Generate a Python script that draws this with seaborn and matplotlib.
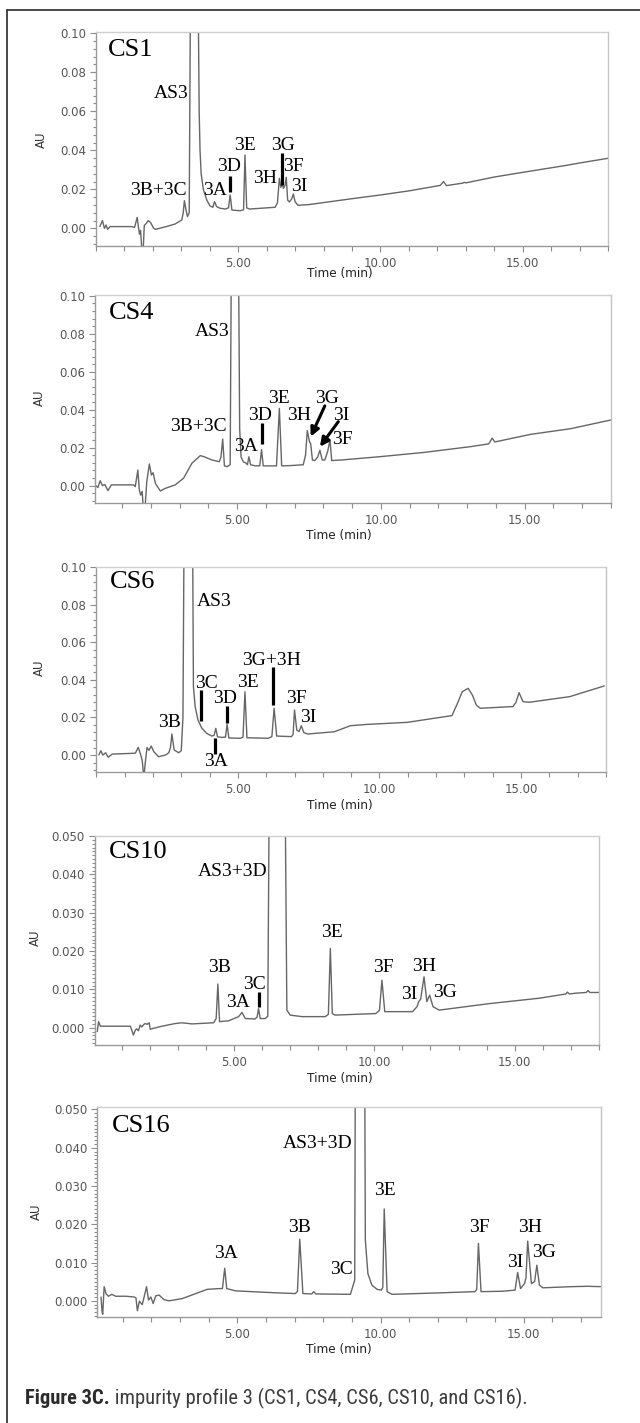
import matplotlib
matplotlib.use("Agg")
import matplotlib.pyplot as plt
from matplotlib.ticker import MultipleLocator, FixedLocator, FuncFormatter
from matplotlib.lines import Line2D
from matplotlib import font_manager
import seaborn as sns

sns.set_theme(style="ticks")
plt.rcParams["font.family"] = ["DejaVu Sans"]

# ---------------------------------------------------------------- data
# CS1 chromatogram (time in min, absorbance in AU)
cs1_time = [0.14, 0.23, 0.30, 0.36, 0.41, 0.50, 1.26, 1.36, 1.45, 1.53, 1.57, 1.62, 1.66,
            1.70, 1.77, 1.84, 1.92, 2.03, 2.10, 2.50, 2.78, 3.02, 3.07, 3.11, 3.16, 3.22,
            3.28, 3.32, 3.45, 3.60, 3.63, 3.66, 3.70, 3.78, 3.90, 4.01, 4.11, 4.17, 4.24,
            4.36, 4.55, 4.66, 4.72, 4.78, 5.07, 5.19, 5.24, 5.30, 5.40, 6.30, 6.38, 6.45,
            6.50, 6.55, 6.59, 6.65, 6.69, 6.74, 6.80, 6.88, 6.94, 7.00, 7.10, 7.50, 8.40,
            9.00, 10.0, 11.0, 12.10, 12.22, 12.32, 12.90, 12.95, 13.0, 14.0, 15.0, 16.5,
            17.0, 18.0]
cs1_au = [0.0009, 0.0040, 0.0000, 0.0017, -0.0005, 0.0009, 0.0009, 0.0005, 0.0056, -0.0030,
          -0.0010, -0.0120, -0.0120, 0.0015, 0.0025, 0.0040, 0.0030, 0.0000, -0.0005, 0.0010,
          0.0022, 0.0043, 0.0080, 0.0142, 0.0100, 0.0060, 0.0080, 0.1100, 0.2000, 0.1100,
          0.0600, 0.0400, 0.0280, 0.0197, 0.0145, 0.0115, 0.0108, 0.0137, 0.0112, 0.0103,
          0.0099, 0.0105, 0.0171, 0.0094, 0.0090, 0.0095, 0.0376, 0.0105, 0.0099, 0.0108,
          0.0130, 0.0256, 0.0210, 0.0230, 0.0205, 0.0220, 0.0262, 0.0145, 0.0135, 0.0150,
          0.0176, 0.0137, 0.0118, 0.0122, 0.0140, 0.0152, 0.0171, 0.0192, 0.0220, 0.0240,
          0.0219, 0.0232, 0.0236, 0.0233, 0.0263, 0.0287, 0.0322, 0.0335, 0.0359]

# CS4 chromatogram
cs4_time = [0.09, 0.16, 0.24, 0.32, 0.40, 0.51, 0.63, 1.40, 1.46, 1.55, 1.60, 1.65, 1.70,
            1.74, 1.80, 1.86, 1.95, 2.02, 2.08, 2.16, 2.33, 2.51, 2.85, 3.14, 3.43, 3.72,
            3.84, 4.13, 4.38, 4.44, 4.50, 4.56, 4.65, 4.76, 4.80, 4.93, 5.05, 5.09, 5.14,
            5.22, 5.30, 5.36, 5.41, 5.47, 5.64, 5.79, 5.85, 5.91, 6.37, 6.47, 6.55, 6.90,
            7.30, 7.38, 7.44, 7.52, 7.56, 7.62, 7.70, 7.80, 7.88, 7.96, 8.05, 8.15, 8.23,
            8.29, 8.62, 10.0, 11.5, 13.1, 13.75, 13.87, 13.96, 15.2, 16.6, 18.0]
cs4_au = [0.0000, -0.0010, 0.0026, 0.0000, 0.0006, -0.0026, 0.0004, 0.0004, -0.0005, 0.0082,
          -0.0023, -0.0050, -0.0030, -0.0120, -0.0120, 0.0020, 0.0114, 0.0056, 0.0068, 0.0012,
          -0.0028, -0.0014, 0.0004, 0.0039, 0.0118, 0.0158, 0.0153, 0.0135, 0.0126, 0.0150,
          0.0245, 0.0104, 0.0100, 0.0110, 0.1200, 0.2500, 0.1200, 0.0300, 0.0150, 0.0125,
          0.0120, 0.0110, 0.0152, 0.0110, 0.0104, 0.0105, 0.0190, 0.0104, 0.0104, 0.0407,
          0.0104, 0.0106, 0.0110, 0.0160, 0.0290, 0.0230, 0.0220, 0.0135, 0.0132, 0.0150,
          0.0186, 0.0135, 0.0135, 0.0180, 0.0240, 0.0132, 0.0135, 0.0153, 0.0175, 0.0205,
          0.0220, 0.0250, 0.0230, 0.0270, 0.0300, 0.0346]

# CS6 chromatogram
cs6_time = [0.09, 0.16, 0.23, 0.33, 0.42, 0.56, 1.27, 1.38, 1.48, 1.56, 1.62, 1.68, 1.73,
            1.79, 1.86, 1.94, 2.03, 2.20, 2.44, 2.56, 2.62, 2.67, 2.75, 2.91, 3.00, 3.06,
            3.10, 3.25, 3.40, 3.43, 3.49, 3.59, 3.73, 3.90, 4.08, 4.16, 4.22, 4.28, 4.43,
            4.56, 4.62, 4.68, 5.07, 5.18, 5.25, 5.32, 6.07, 6.20, 6.28, 6.37, 6.89, 6.95,
            7.00, 7.08, 7.16, 7.24, 7.33, 7.47, 8.41, 8.97, 9.55, 10.98, 12.56, 12.78,
            12.92, 13.13, 13.28, 13.42, 13.56, 14.71, 14.82, 14.93, 15.07, 15.29, 16.72,
            17.94]
cs6_au = [0.0000, 0.0023, 0.0000, 0.0012, -0.0012, 0.0005, 0.0009, 0.0010, 0.0041, 0.0005,
          -0.0027, -0.0120, -0.0040, 0.0040, 0.0025, 0.0048, 0.0018, -0.0009, 0.0000, 0.0012,
          0.0040, 0.0112, 0.0027, 0.0012, 0.0023, 0.0200, 0.1200, 0.2500, 0.1200, 0.0364,
          0.0258, 0.0187, 0.0142, 0.0115, 0.0101, 0.0105, 0.0142, 0.0097, 0.0094, 0.0095,
          0.0163, 0.0091, 0.0089, 0.0095, 0.0337, 0.0092, 0.0089, 0.0098, 0.0249, 0.0101,
          0.0098, 0.0110, 0.0240, 0.0133, 0.0125, 0.0156, 0.0119, 0.0112, 0.0124, 0.0156,
          0.0163, 0.0174, 0.0210, 0.0284, 0.0337, 0.0355, 0.0320, 0.0266, 0.0249, 0.0258,
          0.0280, 0.0332, 0.0284, 0.0281, 0.0311, 0.0368]

# CS10 chromatogram
cs10_time = [0.12, 0.17, 0.23, 1.30, 1.36, 1.41, 1.48, 1.53, 1.59, 1.65, 1.71, 1.77, 1.83,
             1.90, 1.97, 2.01, 2.10, 2.43, 2.90, 3.14, 3.50, 4.27, 4.36, 4.42, 4.48, 4.80,
             5.16, 5.28, 5.40, 5.75, 5.82, 5.87, 5.93, 6.11, 6.20, 6.25, 6.55, 6.82, 6.88,
             7.00, 7.42, 8.25, 8.36, 8.43, 8.50, 8.60, 10.05, 10.18, 10.27, 10.37, 11.36,
             11.52, 11.58, 11.65, 11.77, 11.87, 11.97, 12.09, 12.31, 14.10, 15.87, 16.82,
             16.88, 16.95, 17.15, 17.55, 17.62, 17.68, 18.0]
cs10_au = [-0.0010, 0.0016, 0.0004, 0.0004, -0.0008, -0.0019, -0.0006, -0.0003, -0.0008,
           0.0007, 0.0002, 0.0008, 0.0011, 0.0009, 0.0013, -0.0004, -0.0002, 0.0004, 0.0011,
           0.0013, 0.0010, 0.0013, 0.0024, 0.0114, 0.0016, 0.0018, 0.0029, 0.0040, 0.0024,
           0.0023, 0.0028, 0.0050, 0.0024, 0.0024, 0.0030, 0.0600, 0.1500, 0.0600, 0.0046,
           0.0033, 0.0029, 0.0029, 0.0035, 0.0207, 0.0037, 0.0033, 0.0037, 0.0045, 0.0124,
           0.0042, 0.0042, 0.0055, 0.0068, 0.0075, 0.0133, 0.0068, 0.0085, 0.0055, 0.0046,
           0.0063, 0.0077, 0.0088, 0.0093, 0.0088, 0.0090, 0.0092, 0.0097, 0.0092, 0.0092]

# CS16 chromatogram
cs16_time = [0.24, 0.28, 0.30, 0.35, 0.42, 0.50, 0.62, 0.75, 1.11, 1.40, 1.46, 1.51, 1.58,
             1.68, 1.78, 1.83, 1.90, 1.98, 2.06, 2.15, 2.27, 2.44, 2.62, 3.08, 3.55, 3.95,
             4.36, 4.48, 4.56, 4.63, 4.94, 6.33, 7.03, 7.10, 7.18, 7.29, 7.60, 7.67, 7.74,
             8.95, 9.03, 9.10, 9.12, 9.30, 9.45, 9.47, 9.56, 9.70, 9.88, 10.03, 10.08, 10.13,
             10.23, 10.40, 12.14, 13.30, 13.36, 13.42, 13.51, 14.25, 14.70, 14.79, 14.89,
             15.03, 15.08, 15.14, 15.27, 15.38, 15.46, 15.55, 15.67, 16.66, 17.23, 17.69]
cs16_au = [0.0010, -0.0030, -0.0035, 0.0037, 0.0018, 0.0012, 0.0017, 0.0012, 0.0012, 0.0010,
           0.0008, -0.0026, -0.0001, -0.0010, 0.0021, 0.0037, 0.0002, 0.0010, -0.0007, 0.0013,
           0.0015, 0.0003, 0.0000, 0.0006, 0.0019, 0.0030, 0.0032, 0.0032, 0.0085, 0.0032,
           0.0026, 0.0021, 0.0019, 0.0025, 0.0161, 0.0019, 0.0018, 0.0024, 0.0018, 0.0017,
           0.0037, 0.0054, 0.0600, 0.1500, 0.0600, 0.0159, 0.0071, 0.0041, 0.0030, 0.0028,
           0.0035, 0.0240, 0.0024, 0.0017, 0.0021, 0.0024, 0.0030, 0.0150, 0.0024, 0.0025,
           0.0028, 0.0074, 0.0032, 0.0045, 0.0060, 0.0156, 0.0045, 0.0050, 0.0093, 0.0041,
           0.0034, 0.0037, 0.0038, 0.0037]

# peak annotations: name, time, AU of the label centre
cs1_peaks = ["AS3", "3B+3C", "3A", "3D", "3E", "3H", "3G", "3F", "3I"]
cs1_peak_t = [2.64, 2.21, 4.19, 4.67, 5.24, 5.96, 6.56, 6.93, 7.15]
cs1_peak_au = [0.0689, 0.0193, 0.0193, 0.0316, 0.0424, 0.0256, 0.0424, 0.0316, 0.0217]
cs1_bar_t = [4.72, 6.53]
cs1_bar_lo = [0.0185, 0.0222]
cs1_bar_hi = [0.0270, 0.0385]

cs4_peaks = ["AS3", "3B+3C", "3A", "3D", "3E", "3H", "3G", "3I", "3F"]
cs4_peak_t = [4.12, 3.65, 5.31, 5.78, 6.45, 7.17, 8.12, 8.62, 8.66]
cs4_peak_au = [0.0810, 0.0310, 0.0205, 0.0372, 0.0460, 0.0372, 0.0460, 0.0372, 0.0244]
cs4_bar_t = [5.85]
cs4_bar_lo = [0.0220]
cs4_bar_hi = [0.0328]
cs4_arrow_from = [(8.05, 0.0420), (8.52, 0.0337)]
cs4_arrow_to = [(7.56, 0.0258), (7.88, 0.0205)]

cs6_peaks = ["AS3", "3B", "3C", "3D", "3E", "3G+3H", "3F", "3I", "3A"]
cs6_peak_t = [4.17, 2.59, 3.88, 4.53, 5.35, 6.18, 7.07, 7.47, 4.21]
cs6_peak_au = [0.0817, 0.0172, 0.0382, 0.0302, 0.0387, 0.0502, 0.0302, 0.0199, -0.0036]
cs6_bar_t = [3.71, 4.61, 6.25, 4.20]
cs6_bar_lo = [0.0180, 0.0169, 0.0266, 0.0004]
cs6_bar_hi = [0.0346, 0.0261, 0.0470, 0.0092]

cs10_peaks = ["AS3+3D", "3B", "3A", "3C", "3E", "3F", "3H", "3I", "3G"]
cs10_peak_t = [4.93, 4.48, 5.13, 5.71, 8.48, 10.31, 11.77, 11.24, 12.52]
cs10_peak_au = [0.0407, 0.0157, 0.0066, 0.0114, 0.0249, 0.0157, 0.0159, 0.0088, 0.0091]
cs10_bar_t = [5.90]
cs10_bar_lo = [0.0055]
cs10_bar_hi = [0.0092]

cs16_peaks = ["AS3+3D", "3A", "3B", "3C", "3E", "3F", "3H", "3I", "3G"]
cs16_peak_t = [7.80, 4.62, 7.16, 8.63, 10.14, 13.46, 15.24, 14.70, 15.71]
cs16_peak_au = [0.0411, 0.0124, 0.0192, 0.0082, 0.0287, 0.0192, 0.0192, 0.0099, 0.0126]

sample_names = ["CS1", "CS4", "CS6", "CS10", "CS16"]
caption_bold = "Figure 3C."
caption_rest = " impurity profile 3 (CS1, CS4, CS6, CS10, and CS16)."

# ---------------------------------------------------------------- layout
W, H = 640, 1423
fig = plt.figure(figsize=(W / 100, H / 100), dpi=100)
fig.patch.set_facecolor("white")

SERIF = ["Liberation Serif", "DejaVu Serif"]
TRACE = "#666666"

installed = {f.name for f in font_manager.fontManager.ttflist}
CAPTION_FONT = ["DejaVu Sans"]
for cand in ("Roboto Condensed", "Liberation Sans Narrow", "Open Sans Condensed", "Roboto", "Lato"):
    if cand in installed:
        CAPTION_FONT = [cand]
        break

panels = [
    dict(name=sample_names[0], t=cs1_time, au=cs1_au, box=(95.9, 608, 32.3, 245.7),
         xlim=(0, 18), ylim=(-0.0089, 0.1005), major=0.02, minor=0.004, fmt="{:.2f}",
         peaks=(cs1_peaks, cs1_peak_t, cs1_peak_au), bars=(cs1_bar_t, cs1_bar_lo, cs1_bar_hi),
         tag=(0.42, 0.0914), au_lab=(41, 140), t_lab=(339.6, 273.3)),
    dict(name=sample_names[1], t=cs4_time, au=cs4_au, box=(94.7, 611, 295, 503.3),
         xlim=(0.05, 18), ylim=(-0.0093, 0.1004), major=0.02, minor=0.004, fmt="{:.2f}",
         peaks=(cs4_peaks, cs4_peak_t, cs4_peak_au), bars=(cs4_bar_t, cs4_bar_lo, cs4_bar_hi),
         arrows=(cs4_arrow_from, cs4_arrow_to),
         tag=(0.53, 0.0907), au_lab=(39, 398), t_lab=(338.8, 535)),
    dict(name=sample_names[2], t=cs6_time, au=cs6_au, box=(96.3, 606, 566.7, 772.3),
         xlim=(0, 18), ylim=(-0.0092, 0.1003), major=0.02, minor=0.004, fmt="{:.2f}",
         peaks=(cs6_peaks, cs6_peak_t, cs6_peak_au), bars=(cs6_bar_t, cs6_bar_lo, cs6_bar_hi),
         tag=(0.48, 0.0923), au_lab=(39, 668), t_lab=(340, 805)),
    dict(name=sample_names[3], t=cs10_time, au=cs10_au, box=(94.7, 598.8, 835.7, 1045),
         xlim=(0.03, 18), ylim=(-0.0045, 0.0501), major=0.01, minor=0.001, fmt="{:.3f}",
         peaks=(cs10_peaks, cs10_peak_t, cs10_peak_au), bars=(cs10_bar_t, cs10_bar_lo, cs10_bar_hi),
         tag=(0.52, 0.0459), au_lab=(35, 938), t_lab=(339.6, 1078.3)),
    dict(name=sample_names[4], t=cs16_time, au=cs16_au, box=(97, 601, 1106.7, 1317.3),
         xlim=(0.1, 17.7), ylim=(-0.0043, 0.0507), major=0.01, minor=0.001, fmt="{:.3f}",
         peaks=(cs16_peaks, cs16_peak_t, cs16_peak_au), bars=None,
         tag=(0.63, 0.0457), au_lab=(36, 1212), t_lab=(338.8, 1350)),
]


def fig_xy(x, y):
    return x / W, 1 - y / H


for p in panels:
    x0, x1, y0, y1 = p["box"]
    ax = fig.add_axes([x0 / W, 1 - y1 / H, (x1 - x0) / W, (y1 - y0) / H])
    ax.set_facecolor("white")

    sns.lineplot(x=p["t"], y=p["au"], ax=ax, color=TRACE, linewidth=1.0,
                 sort=False, estimator=None, legend=False)

    ax.set_xlim(*p["xlim"])
    ax.set_ylim(*p["ylim"])
    ax.set_xlabel("")
    ax.set_ylabel("")

    ax.xaxis.set_major_locator(FixedLocator([5, 10, 15]))
    ax.xaxis.set_major_formatter(FuncFormatter(lambda v, _: f"{v:.2f}"))
    ax.xaxis.set_minor_locator(MultipleLocator(1))
    ax.yaxis.set_major_locator(MultipleLocator(p["major"]))
    fmt = p["fmt"]
    ax.yaxis.set_major_formatter(FuncFormatter(lambda v, _, f=fmt: f.format(abs(v) if abs(v) < 1e-9 else v)))
    ax.yaxis.set_minor_locator(MultipleLocator(p["minor"]))

    ax.tick_params(axis="both", which="both", direction="out", color="#8c8c8c",
                   labelcolor="#555555", labelsize=8.5, width=0.8)
    ax.tick_params(axis="x", which="major", length=4, pad=4)
    ax.tick_params(axis="x", which="minor", length=3.5)
    ax.tick_params(axis="y", which="major", length=4, pad=3)
    ax.tick_params(axis="y", which="minor", length=2.5)

    for side, col in (("left", "#9a9a9a"), ("bottom", "#9a9a9a"),
                      ("top", "#cfcfcf"), ("right", "#c4c4c4")):
        ax.spines[side].set_visible(True)
        ax.spines[side].set_color(col)
        ax.spines[side].set_linewidth(1.0)

    # sample name
    ax.text(p["tag"][0], p["tag"][1], p["name"], ha="left", va="center",
            fontsize=19, family=SERIF, color="black")

    # peak labels
    names, pt, pa = p["peaks"]
    for n, tt, aa in zip(names, pt, pa):
        ax.text(tt, aa, n, ha="center", va="center", fontsize=14, family=SERIF, color="black")

    # marker bars
    if p["bars"] is not None:
        bt, blo, bhi = p["bars"]
        ax.vlines(bt, blo, bhi, colors="black", linewidth=2.3)

    # arrows
    if "arrows" in p:
        for src, dst in zip(*p["arrows"]):
            ax.annotate("", xy=dst, xytext=src,
                        arrowprops=dict(arrowstyle="-|>", color="black", lw=2.2,
                                        mutation_scale=13, shrinkA=0, shrinkB=0))

    fx, fy = fig_xy(*p["au_lab"])
    fig.text(fx, fy, "AU", rotation=90, ha="center", va="center", fontsize=8.5, color="#333333")
    fx, fy = fig_xy(*p["t_lab"])
    fig.text(fx, fy, "Time (min)", ha="center", va="center", fontsize=8.7, color="#222222")

# outer frame (top and left rules)
fig.add_artist(Line2D([7 / W, 1.0], [1 - 10 / H, 1 - 10 / H], transform=fig.transFigure,
                      color="#3a3a3a", linewidth=1.3))
fig.add_artist(Line2D([7 / W, 7 / W], [1 - 10 / H, 0.0], transform=fig.transFigure,
                      color="#3a3a3a", linewidth=1.3))

# caption: bold lead-in followed by the plain description, sized to span 25..527 px
cx, cy = fig_xy(25, 1398)
renderer = fig.canvas.get_renderer()
size = 14.0
for _ in range(3):
    probe_b = fig.text(0, 0, caption_bold, fontsize=size, fontweight="bold", family=CAPTION_FONT)
    probe_r = fig.text(0, 0, caption_rest, fontsize=size, family=CAPTION_FONT)
    total = probe_b.get_window_extent(renderer).width + probe_r.get_window_extent(renderer).width
    probe_b.remove()
    probe_r.remove()
    size *= 502.0 / total

t_bold = fig.text(cx, cy, caption_bold, ha="left", va="center", fontsize=size,
                  fontweight="bold", family=CAPTION_FONT, color="#2b2b2b")
bb = t_bold.get_window_extent(renderer=renderer)
fig.text(bb.x1 / W, cy, caption_rest, ha="left", va="center", fontsize=size,
         family=CAPTION_FONT, color="#3c3c3c")

fig.savefig("out.png", dpi=100, facecolor="white")
